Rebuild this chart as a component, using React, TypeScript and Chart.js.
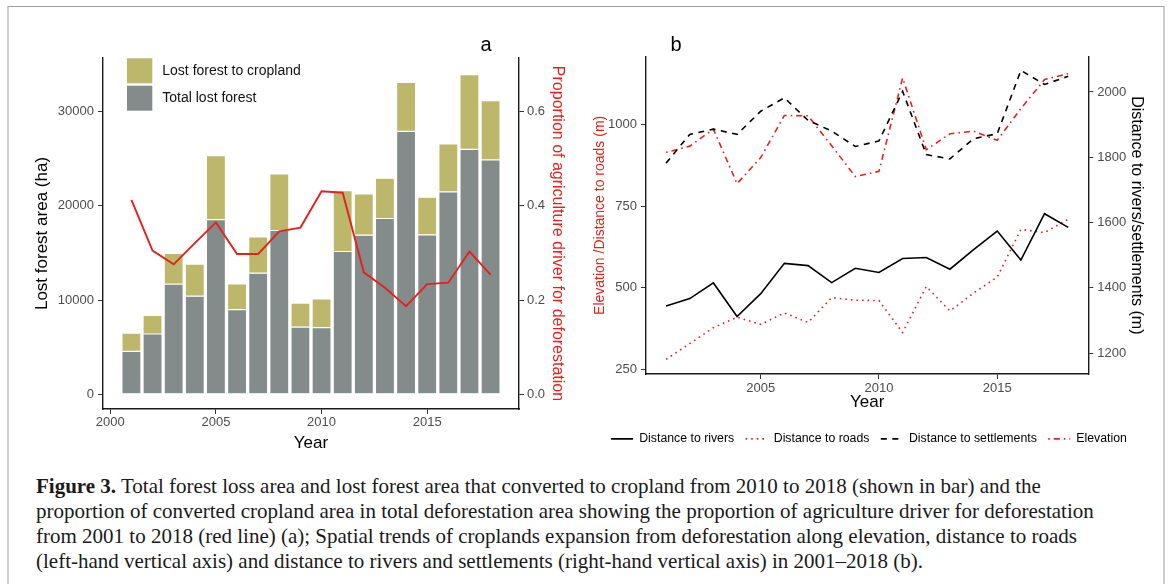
import React, { useEffect, useRef } from 'react';
import { Chart, registerables } from 'chart.js';

Chart.register(...registerables);

// ---------------- data ----------------
const years = [2001, 2002, 2003, 2004, 2005, 2006, 2007, 2008, 2009, 2010, 2011, 2012, 2013, 2014, 2015, 2016, 2017, 2018];

// panel a (ha): grey segment (total lost forest) and olive segment (lost forest to cropland) stacked on it
const totalLostForest = [4560, 6400, 11700, 10420, 18550, 8980, 12860, 17390, 7140, 7070, 15160, 16890, 18660, 27920, 16930, 21480, 26010, 24880];
const lostToCropland = [1940, 1980, 3250, 3400, 6790, 2750, 3850, 6000, 2540, 3070, 6470, 4380, 4280, 5190, 3990, 5090, 7910, 6290];
const agriDriverProportion = [0.413, 0.305, 0.276, 0.321, 0.365, 0.298, 0.298, 0.346, 0.354, 0.431, 0.428, 0.259, 0.226, 0.187, 0.234, 0.237, 0.303, 0.254];

const panelAYearTicks = [2000, 2005, 2010, 2015];
const panelAAreaTicks = [0, 10000, 20000, 30000];
const panelAPropTicks = [0, 0.2, 0.4, 0.6];

// panel b (m)
const distRivers = [1344, 1367, 1415, 1312, 1382, 1475, 1468, 1416, 1460, 1447, 1490, 1493, 1457, 1517, 1574, 1485, 1627, 1585];
const distRoads = [281, 329, 378, 410, 388, 423, 394, 470, 462, 461, 363, 504, 429, 484, 533, 679, 669, 710];
const distSettlements = [1782, 1870, 1886, 1870, 1941, 1982, 1913, 1880, 1833, 1850, 2002, 1808, 1795, 1857, 1872, 2066, 2023, 2048];
const elevation = [915, 934, 986, 819, 899, 1028, 1027, 935, 841, 857, 1143, 923, 972, 980, 952, 1049, 1138, 1156];

const panelBYearTicks = [2005, 2010, 2015];
const panelBLeftTicks = [250, 500, 750, 1000];
const panelBRightTicks = [1200, 1400, 1600, 1800, 2000];

const captionBold = 'Figure 3.';
const captionLines = [
  ' Total forest loss area and lost forest area that converted to cropland from 2010 to 2018 (shown in bar) and the',
  'proportion of converted cropland area in total deforestation area showing the proportion of agriculture driver for deforestation',
  'from 2001 to 2018 (red line) (a); Spatial trends of croplands expansion from deforestation along elevation, distance to roads',
  '(left-hand vertical axis) and distance to rivers and settlements (right-hand vertical axis) in 2001\u20132018 (b).',
];

// ---------------- styles ----------------
const SANS = "'Liberation Sans', Arial, Helvetica, sans-serif";
const SERIF = "'Liberation Serif', 'Times New Roman', serif";
const RED = '#E3221E';
const OLIVE = '#BDB76B';
const GREY = '#838B8B';
const TICK_GREY = '#4D4D4D';

const fixedTicks = (vals: number[]) => (scale: any) => {
  scale.ticks = vals.map((value) => ({ value }));
};

const axisBase = (tickPad: number) => ({
  grid: { display: true, drawOnChartArea: false, drawTicks: true, tickLength: 5, color: '#333333', lineWidth: 1, offset: false },
  border: { display: true, color: '#1a1a1a', width: 1.4 },
  ticks: { font: { family: SANS, size: 13 }, color: TICK_GREY, padding: tickPad, autoSkip: false, maxRotation: 0 },
});

const panelATextPlugin = {
  id: 'panelAText',
  afterDraw(chart: any) {
    const { ctx } = chart;
    ctx.save();
    [1, 0].forEach((dsIdx, row) => {
      const ds = chart.data.datasets[dsIdx];
      const y = 58.3 + row * 27.4;
      ctx.fillStyle = ds.backgroundColor;
      ctx.fillRect(127, y, 25.3, 25);
      ctx.fillStyle = '#111111';
      ctx.font = `14px ${SANS}`;
      ctx.textBaseline = 'middle';
      ctx.textAlign = 'left';
      ctx.fillText(ds.label, 162.3, y + 12.8);
    });
    ctx.fillStyle = '#000000';
    ctx.font = `20px ${SANS}`;
    ctx.textAlign = 'center';
    ctx.textBaseline = 'alphabetic';
    ctx.fillText('a', 486, 50.5);
    ctx.restore();
  },
};

const panelBTextPlugin = {
  id: 'panelBText',
  afterDraw(chart: any) {
    const { ctx } = chart;
    ctx.save();
    ctx.fillStyle = '#000000';
    ctx.font = `20px ${SANS}`;
    ctx.textAlign = 'center';
    ctx.textBaseline = 'alphabetic';
    ctx.fillText('b', 86, 50.5);
    ctx.restore();
  },
};

function PanelA() {
  const ref = useRef<HTMLCanvasElement | null>(null);
  useEffect(() => {
    if (!ref.current) return;
    const chart = new Chart(ref.current, {
      type: 'bar',
      data: {
        datasets: [
          {
            type: 'bar',
            label: 'Total lost forest',
            data: years.map((x, i) => ({ x, y: totalLostForest[i] })),
            backgroundColor: GREY,
            borderColor: '#ffffff',
            borderWidth: 0.6,
            borderSkipped: false,
            barPercentage: 0.9,
            categoryPercentage: 1.0,
            yAxisID: 'y',
            order: 1,
          } as any,
          {
            type: 'bar',
            label: 'Lost forest to cropland',
            data: years.map((x, i) => ({ x, y: lostToCropland[i] })),
            backgroundColor: OLIVE,
            borderColor: '#ffffff',
            borderWidth: 0.6,
            borderSkipped: false,
            barPercentage: 0.9,
            categoryPercentage: 1.0,
            yAxisID: 'y',
            order: 1,
          } as any,
          {
            type: 'line',
            label: 'Proportion of agriculture driver for deforestation',
            data: years.map((x, i) => ({ x, y: agriDriverProportion[i] })),
            borderColor: RED,
            backgroundColor: RED,
            borderWidth: 1.9,
            pointRadius: 0,
            tension: 0,
            yAxisID: 'y1',
            order: 0,
          } as any,
        ],
      },
      options: {
        responsive: false,
        animation: false,
        layout: { padding: { top: 58, left: 0, right: 0, bottom: 0 } },
        plugins: { legend: { display: false }, tooltip: { enabled: false }, title: { display: false } },
        scales: {
          x: {
            ...axisBase(1),
            type: 'linear',
            offset: false,
            stacked: true,
            min: 1999.655,
            max: 2019.345,
            afterBuildTicks: fixedTicks(panelAYearTicks),
            ticks: { ...axisBase(1).ticks, callback: (v: any) => String(v) },
            title: { display: true, text: 'Year', color: '#000000', font: { family: SANS, size: 17 }, padding: { top: 0, bottom: 6.8 } },
            afterFit: (s: any) => { s.height = 51; },
          },
          y: {
            ...axisBase(4),
            type: 'linear',
            position: 'left',
            stacked: true,
            min: -1560,
            max: 35700,
            afterBuildTicks: fixedTicks(panelAAreaTicks),
            ticks: { ...axisBase(4).ticks, callback: (v: any) => String(v) },
            title: { display: true, text: 'Lost forest area (ha)', color: '#000000', font: { family: SANS, size: 17 }, padding: { top: 32, bottom: 0 } },
            afterFit: (s: any) => { s.width = 103; },
          },
          y1: {
            ...axisBase(3),
            type: 'linear',
            position: 'right',
            min: -0.0312,
            max: 0.714,
            afterBuildTicks: fixedTicks(panelAPropTicks),
            ticks: { ...axisBase(3).ticks, callback: (v: any) => Number(v).toFixed(1) },
            title: { display: true, text: 'Proportion of agriculture driver for deforestation', color: RED, font: { family: SANS, size: 16 }, padding: { top: 23, bottom: 0 } },
            afterFit: (s: any) => { s.width = 71; },
          },
        },
      } as any,
      plugins: [panelATextPlugin],
    });
    return () => chart.destroy();
  }, []);
  return <canvas ref={ref} width={590} height={460} style={{ position: 'absolute', left: 0, top: 0, width: 590, height: 460 }} />;
}

function PanelB() {
  const ref = useRef<HTMLCanvasElement | null>(null);
  useEffect(() => {
    if (!ref.current) return;
    const line = (label: string, vals: number[], color: string, dash: number[], axis: string) => ({
      type: 'line',
      label,
      data: years.map((x, i) => ({ x, y: vals[i] })),
      borderColor: color,
      backgroundColor: color,
      borderWidth: 1.6,
      borderDash: dash,
      pointRadius: 0,
      tension: 0,
      yAxisID: axis,
    });
    const chart = new Chart(ref.current, {
      type: 'line',
      data: {
        datasets: [
          line('Distance to rivers', distRivers, '#000000', [], 'y1'),
          line('Distance to roads', distRoads, RED, [1.6, 4], 'y'),
          line('Distance to settlements', distSettlements, '#000000', [6, 5.5], 'y1'),
          line('Elevation', elevation, RED, [1.6, 4, 6, 4], 'y'),
        ] as any,
      },
      options: {
        responsive: false,
        animation: false,
        layout: { padding: { top: 56.7, left: 0, right: 0, bottom: 5 } },
        plugins: {
          tooltip: { enabled: false },
          title: { display: false },
          legend: {
            display: true,
            position: 'bottom',
            align: 'center',
            labels: {
              usePointStyle: true,
              pointStyle: 'line',
              pointStyleWidth: 22,
              padding: 11.4,
              color: '#000000',
              font: { family: SANS, size: 12.3 },
              generateLabels: (c: any) => {
                const items = (Chart as any).defaults.plugins.legend.labels.generateLabels(c);
                return items.map((it: any) => {
                  const ds = c.data.datasets[it.datasetIndex];
                  return {
                    ...it,
                    pointStyle: 'line',
                    lineDash: ds.borderDash,
                    lineDashOffset: 0,
                    lineWidth: ds.borderWidth,
                    strokeStyle: ds.borderColor,
                    fillStyle: ds.borderColor,
                    lineCap: 'butt',
                    fontColor: '#000000',
                  };
                });
              },
            },
          },
        },
        scales: {
          x: {
            ...axisBase(1.5),
            type: 'linear',
            min: 2000.15,
            max: 2018.85,
            afterBuildTicks: fixedTicks(panelBYearTicks),
            ticks: { ...axisBase(1.5).ticks, callback: (v: any) => String(v) },
            title: { display: true, text: 'Year', color: '#000000', font: { family: SANS, size: 17 }, padding: { top: 0, bottom: 8.5 } },
            afterFit: (s: any) => { s.height = 47.3; },
          },
          y: {
            ...axisBase(4),
            type: 'linear',
            position: 'left',
            min: 236,
            max: 1208,
            afterBuildTicks: fixedTicks(panelBLeftTicks),
            ticks: { ...axisBase(4).ticks, callback: (v: any) => String(v) },
            title: { display: true, text: 'Elevation /Distance to roads (m)', color: RED, font: { family: SANS, size: 14 }, padding: { top: 1.6, bottom: 0 } },
            afterFit: (s: any) => { s.width = 56; },
          },
          y1: {
            ...axisBase(4),
            type: 'linear',
            position: 'right',
            min: 1136,
            max: 2108,
            afterBuildTicks: fixedTicks(panelBRightTicks),
            ticks: { ...axisBase(4).ticks, callback: (v: any) => String(v) },
            title: { display: true, text: 'Distance to rivers/settlements (m)', color: '#000000', font: { family: SANS, size: 16 }, padding: { top: 1.8, bottom: 0 } },
            afterFit: (s: any) => { s.width = 59.7; },
          },
        },
      } as any,
      plugins: [panelBTextPlugin],
    });
    return () => chart.destroy();
  }, []);
  return <canvas ref={ref} width={558} height={460} style={{ position: 'absolute', left: 590, top: 0, width: 558, height: 460 }} />;
}

export default function App() {
  return (
    <div style={{ position: 'absolute', left: 0, top: 0, width: 1170, height: 584, overflow: 'hidden', background: '#ffffff' }}>
      <div
        style={{
          position: 'absolute',
          left: 7,
          top: 5.5,
          width: 1158,
          height: 700,
          boxSizing: 'border-box',
          borderTop: '1.5px solid #9e9e9e',
          borderLeft: '2px solid #cfcfcf',
          borderRight: '2px solid #cfcfcf',
        }}
      />
      <PanelA />
      <PanelB />
      <div
        style={{
          position: 'absolute',
          left: 36,
          top: 474,
          fontFamily: SERIF,
          fontSize: 21,
          lineHeight: '25px',
          color: '#1a1a1a',
          whiteSpace: 'nowrap',
        }}
      >
        {captionLines.map((t, i) => (
          <div key={i}>
            {i === 0 ? <b>{captionBold}</b> : null}
            {t}
          </div>
        ))}
      </div>
    </div>
  );
}
